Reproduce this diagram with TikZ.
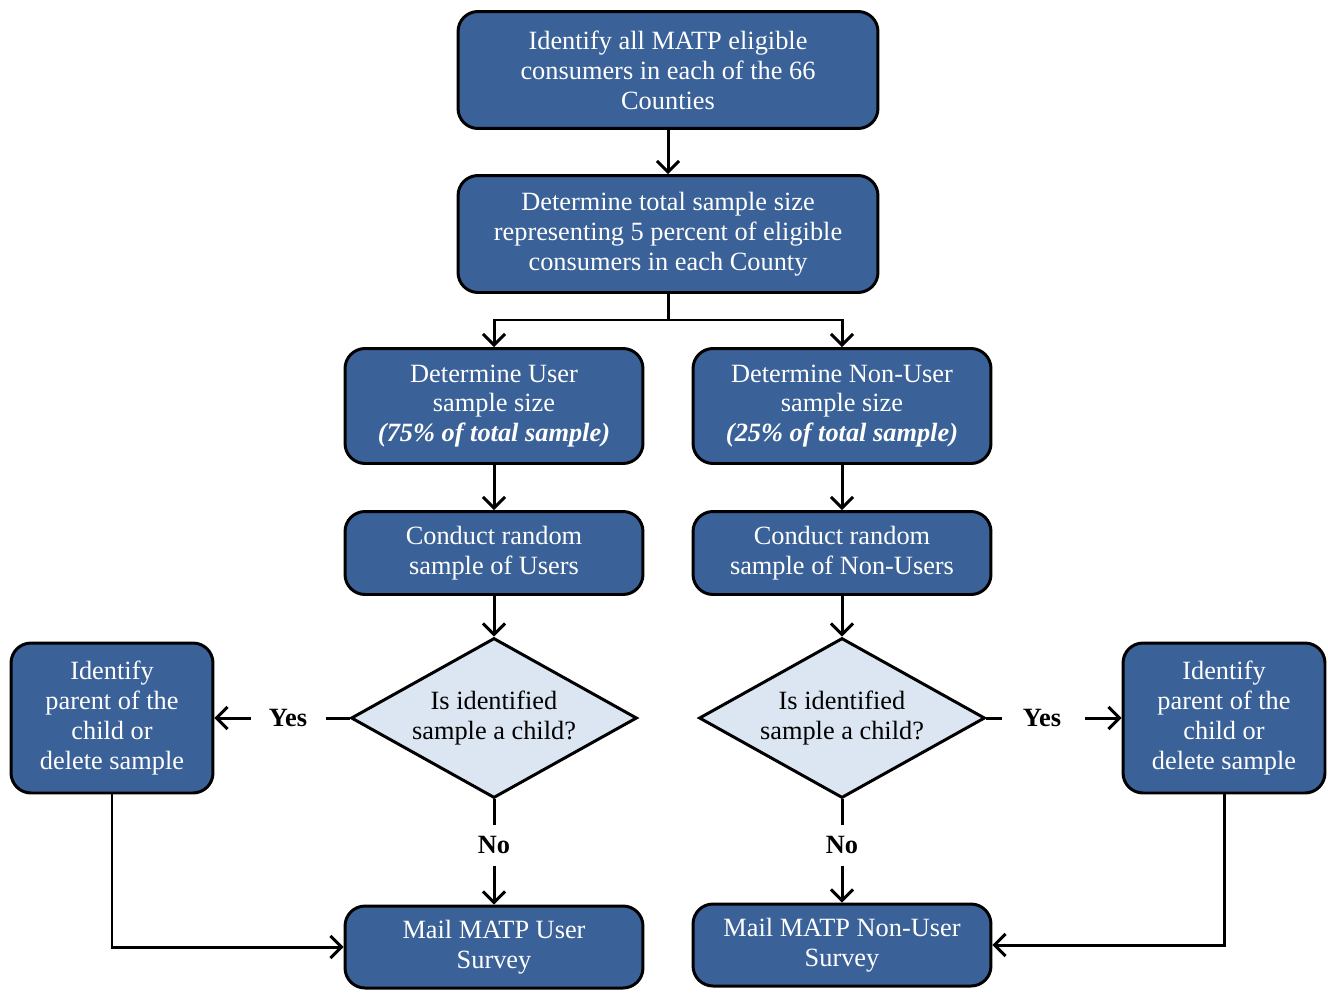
\documentclass[tikz,border=0pt]{standalone}
\usepackage{fontspec}
\setmainfont{Liberation Serif}
\usepackage{xcolor}
\usetikzlibrary{shapes.geometric, arrows.meta}

\definecolor{boxblue}{RGB}{59,98,152}
\definecolor{paleblue}{RGB}{220,230,242}

\tikzset{
  stepbox/.style={draw=black, line width=1.7pt, rounded corners=0.4cm, fill=boxblue,
    text=white, align=center, font=\fontsize{15}{17}\selectfont, inner sep=2pt},
  ask/.style={diamond, aspect=1.79, draw=black, line width=1.7pt, fill=paleblue, align=center,
    font=\fontsize{15}{17}\selectfont, inner sep=0pt, minimum width=5.72cm, minimum height=3.2cm},
  tag/.style={font=\bfseries\fontsize{15}{17}\selectfont, inner sep=1pt},
  link/.style={-{Straight Barb[length=2.2mm,width=4.4mm]}, line width=1.7pt}
}

\begin{document}
\begin{tikzpicture}[x=0.02cm, y=-0.02cm]
        \useasboundingbox (0,0) rectangle (1328,994);
        % boxes in the middle
        \node[stepbox, minimum width=8.4cm, minimum height=2.34cm] (ident) at (668,70)
            {Identify all MATP eligible\\consumers in each of the 66\\Counties};
        \node[stepbox, minimum width=8.4cm, minimum height=2.34cm] (total) at (668,234)
            {Determine total sample size\\representing 5 percent of eligible\\consumers in each County};
        \node[stepbox, minimum width=5.96cm, minimum height=2.3cm] (usize) at (494,406)
            {Determine User\\sample size\\\textbf{\textit{(75\% of total sample)}}};
        \node[stepbox, minimum width=5.96cm, minimum height=2.3cm] (nsize) at (842,406)
            {Determine Non-User\\sample size\\\textbf{\textit{(25\% of total sample)}}};
        \node[stepbox, minimum width=5.96cm, minimum height=1.66cm] (urand) at (494,553)
            {Conduct random\\sample of Users};
        \node[stepbox, minimum width=5.96cm, minimum height=1.66cm] (nrand) at (842,553)
            {Conduct random\\sample of Non-Users};
        % decisions
        \node[ask] (uask) at (494,718) {Is identified\\sample a child?};
        \node[ask] (nask) at (842,718) {Is identified\\sample a child?};
        % side boxes
        \node[stepbox, minimum width=4.04cm, minimum height=3.0cm] (upar) at (112,718)
            {Identify\\parent of the\\child or\\delete sample};
        \node[stepbox, minimum width=4.04cm, minimum height=3.0cm] (npar) at (1224,718)
            {Identify\\parent of the\\child or\\delete sample};
        % mail boxes
        \node[stepbox, minimum width=5.96cm, minimum height=1.64cm] (umail) at (494,947)
            {Mail MATP User\\Survey};
        \node[stepbox, minimum width=5.96cm, minimum height=1.64cm] (nmail) at (842,945)
            {Mail MATP Non-User\\Survey};
        % labels
        \node[tag] (uyes) at (288,718) {Yes};
        \node[tag] (nyes) at (1042,718) {Yes};
        \node[tag] (uno) at (494,845) {No};
        \node[tag] (nno) at (842,845) {No};
        \coordinate (fork) at (668,320);
        % arrows
        \draw[link] (ident) -- (total);
        \draw[line width=1.7pt] (total) -- (fork);
        \draw[link] (fork) -| (usize);
        \draw[link] (fork) -| (nsize);
        \draw[link] (usize) -- (urand);
        \draw[link] (nsize) -- (nrand);
        \draw[link] (urand) -- (uask);
        \draw[link] (nrand) -- (nask);
        \draw[line width=1.7pt] (uask.west) -- ++(-24,0);
        \draw[link] (uyes.west) ++(-16,0) -- (upar);
        \draw[line width=1.7pt] (nask.east) -- ++(16,0);
        \draw[link] (nyes.east) ++(22,0) -- (npar);
        \draw[line width=1.7pt] (uask.south) -- ++(0,26);
        \draw[link] (uno.south) ++(0,10) -- (umail);
        \draw[line width=1.7pt] (nask.south) -- ++(0,26);
        \draw[link] (nno.south) ++(0,10) -- (nmail);
        \draw[link] (upar) |- (umail);
        \draw[link] (npar) |- (nmail);
\end{tikzpicture}
\end{document}
